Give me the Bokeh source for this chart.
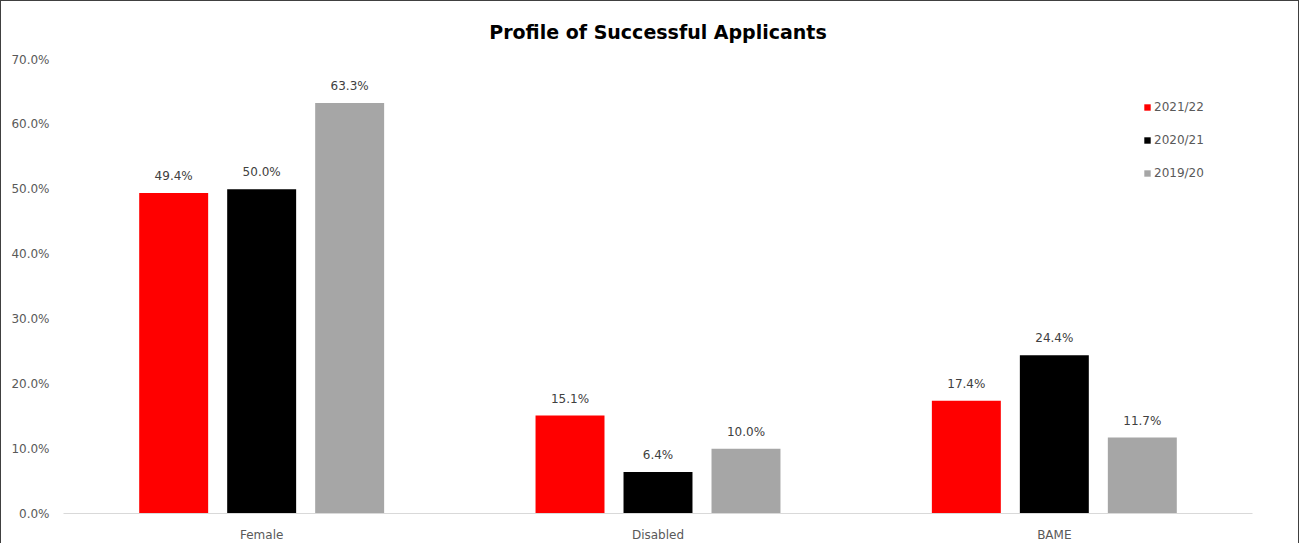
from bokeh.plotting import figure
from bokeh.models import ColumnDataSource, FactorRange, Range1d, Legend, LegendItem, CustomJSTickFormatter
from bokeh.transform import dodge
from bokeh.core.properties import value
from bokeh.embed import file_html
from bokeh.resources import INLINE

categories = ["Female", "Disabled", "BAME"]
series_names = ["2021/22", "2020/21", "2019/20"]
v_2021_22 = [49.4, 15.1, 17.4]
v_2020_21 = [50.0, 6.4, 24.4]
v_2019_20 = [63.3, 10.0, 11.7]
y_ticks = [0, 10, 20, 30, 40, 50, 60, 70]
colors = ["#FF0000", "#000000", "#A6A6A6"]
series_values = [v_2021_22, v_2020_21, v_2019_20]

FONT = "DejaVu Sans"
TXT = "#595959"

p = figure(x_range=FactorRange(*categories), y_range=Range1d(0, 70),
           width=1299, height=543, output_backend="svg", toolbar_location=None,
           min_border_left=62, min_border_right=48, min_border_top=58, min_border_bottom=29)
p.styles = {"border-top": "1px solid #404040", "border-left": "1px solid #404040",
            "border-right": "1px solid #404040"}
p.outline_line_color = None
p.xgrid.grid_line_color = None
p.ygrid.grid_line_color = None

p.title.text = "Profile of Successful Applicants"
p.title.align = "center"
p.title.text_font = FONT
p.title.text_font_size = "19px"
p.title.text_font_style = "bold"
p.title.text_color = "#000000"
p.title.standoff = 34

offsets = [-0.222, 0.0, 0.222]
items = []
for name, vals, col, off in zip(series_names, series_values, colors, offsets):
    src = ColumnDataSource(dict(cat=categories, val=vals,
                                lab=[f"{v:.1f}%" for v in vals]))
    r = p.vbar(x=dodge("cat", off, range=p.x_range), top="val", width=0.174,
               source=src, fill_color=col, line_color=None)
    p.text(x=dodge("cat", off, range=p.x_range), y="val", text="lab", source=src,
           text_align="center", text_baseline="middle", y_offset=-17,
           text_font=value(FONT), text_font_size="12px", text_color="#404040")
    items.append(LegendItem(label=name, renderers=[r]))

legend = Legend(items=items, location=(1080, 330))
legend.border_line_color = None
legend.background_fill_alpha = 0
legend.glyph_width = 8
legend.glyph_height = 8
legend.label_text_font = FONT
legend.label_text_font_size = "12px"
legend.label_text_color = TXT
legend.label_height = 20
legend.spacing = 13
legend.label_standoff = 3
p.add_layout(legend)

p.yaxis.ticker = y_ticks
p.yaxis.formatter = CustomJSTickFormatter(code="return tick.toFixed(1) + '%';")
p.yaxis.axis_line_color = None
p.yaxis.major_tick_line_color = None
p.yaxis.minor_tick_line_color = None
p.yaxis.major_label_text_font = FONT
p.yaxis.major_label_text_font_size = "12px"
p.yaxis.major_label_text_color = TXT
p.yaxis.major_label_standoff = 8

p.xaxis.axis_line_color = "#D9D9D9"
p.xaxis.axis_line_width = 1
p.xaxis.major_tick_line_color = None
p.xaxis.minor_tick_line_color = None
p.xaxis.major_label_text_font = FONT
p.xaxis.major_label_text_font_size = "12px"
p.xaxis.major_label_text_color = TXT
p.xaxis.major_label_standoff = 8

open("out.html", "w").write(file_html(p, INLINE))
